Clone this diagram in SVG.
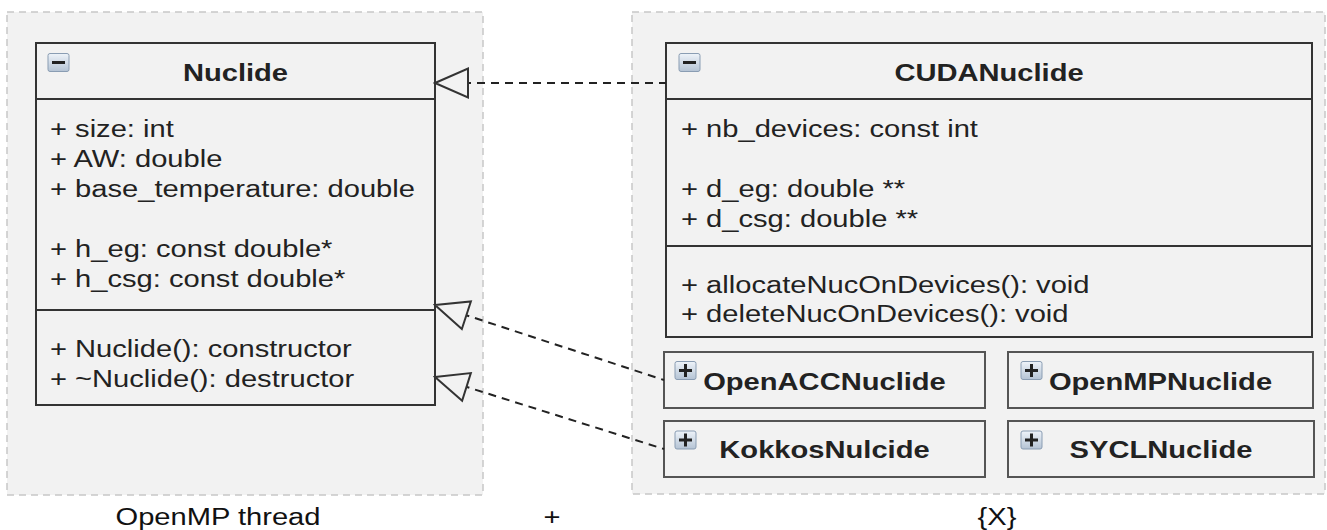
<svg xmlns="http://www.w3.org/2000/svg" width="1327" height="530" viewBox="0 0 1327 530">
<style>
.bg{fill:#ffffff}
.cont{fill:#f2f2f2;stroke:#c8c8c8;stroke-width:1.5;stroke-dasharray:7 5}
.cls{fill:#f2f2f2;stroke:#333333;stroke-width:2}
.sm{fill:#f2f2f2;stroke:#555555;stroke-width:2}
.sep{stroke:#333333;stroke-width:2}
.t{font-family:"Liberation Sans",Arial,Helvetica,sans-serif;font-size:23.3px;fill:#222222}
.b{font-weight:bold}
.lbl{font-family:"Liberation Sans",Arial,Helvetica,sans-serif;font-size:23.3px;fill:#111111}
.ico{fill:url(#icoGrad);stroke:#8a9db3;stroke-width:1}
.sym{fill:#222222}
.conn{fill:none;stroke:#222222;stroke-width:2;stroke-dasharray:8 6}
</style>
<defs>
<linearGradient id="icoGrad" x1="0" y1="0" x2="0" y2="1">
<stop offset="0" stop-color="#eef3f9"/>
<stop offset="1" stop-color="#b4c3d4"/>
</linearGradient>
<marker id="realize" markerUnits="userSpaceOnUse" markerWidth="38" markerHeight="34" viewBox="-2 -17 38 34" refX="0" refY="0" orient="auto">
<path d="M0,0 L33,-14.5 L33,14.5 Z" fill="#f2f2f2" stroke="#333333" stroke-width="2" stroke-linejoin="miter"/>
</marker>
</defs>
<rect class="bg" x="0" y="0" width="1327" height="530"/>

<g id="container-openmp">
<rect class="cont" x="7" y="12" width="476" height="483"/>
</g>
<g id="container-x">
<rect class="cont" x="632" y="12" width="693" height="482"/>
</g>

<g id="node-nuclide">
<rect class="cls" x="36" y="43" width="399" height="362"/>
<line class="sep" x1="36" y1="99" x2="435" y2="99"/>
<line class="sep" x1="36" y1="310" x2="435" y2="310"/>
<rect class="ico" x="48" y="53.5" width="21" height="18" rx="2"/>
<rect class="sym" x="52" y="61" width="13" height="3"/>
<text class="t b" text-anchor="middle" transform="translate(235.5,81) scale(1.25,1)">Nuclide</text>
<text class="t" transform="translate(50,137) scale(1.25,1)">+ size: int</text>
<text class="t" transform="translate(50,167) scale(1.25,1)">+ AW: double</text>
<text class="t" transform="translate(50,197) scale(1.25,1)">+ base_temperature: double</text>
<text class="t" transform="translate(50,257) scale(1.25,1)">+ h_eg: const double*</text>
<text class="t" transform="translate(50,287) scale(1.25,1)">+ h_csg: const double*</text>
<text class="t" transform="translate(50,357) scale(1.25,1)">+ Nuclide(): constructor</text>
<text class="t" transform="translate(50,387) scale(1.25,1)">+ ~Nuclide(): destructor</text>
</g>

<g id="node-cudanuclide">
<rect class="cls" x="666" y="43" width="646" height="294"/>
<line class="sep" x1="666" y1="99" x2="1312" y2="99"/>
<line class="sep" x1="666" y1="246" x2="1312" y2="246"/>
<rect class="ico" x="679" y="53.5" width="21" height="18" rx="2"/>
<rect class="sym" x="683" y="61" width="13" height="3"/>
<text class="t b" text-anchor="middle" transform="translate(989,81) scale(1.25,1)">CUDANuclide</text>
<text class="t" transform="translate(681,137) scale(1.25,1)">+ nb_devices: const int</text>
<text class="t" transform="translate(681,197) scale(1.25,1)">+ d_eg: double **</text>
<text class="t" transform="translate(681,227) scale(1.25,1)">+ d_csg: double **</text>
<text class="t" transform="translate(681,293) scale(1.25,1)">+ allocateNucOnDevices(): void</text>
<text class="t" transform="translate(681,322) scale(1.25,1)">+ deleteNucOnDevices(): void</text>
</g>

<g id="node-openacc">
<rect class="sm" x="664" y="352" width="321" height="56"/>
<rect class="ico" x="675" y="361.5" width="21" height="18" rx="2"/>
<rect class="sym" x="679" y="369" width="13" height="3"/>
<rect class="sym" x="684" y="364" width="3" height="13"/>
<text class="t b" text-anchor="middle" transform="translate(824.5,390) scale(1.25,1)">OpenACCNuclide</text>
</g>

<g id="node-openmp">
<rect class="sm" x="1008" y="352" width="305" height="56"/>
<rect class="ico" x="1021" y="361.5" width="21" height="18" rx="2"/>
<rect class="sym" x="1025" y="369" width="13" height="3"/>
<rect class="sym" x="1030" y="364" width="3" height="13"/>
<text class="t b" text-anchor="middle" transform="translate(1160.5,390) scale(1.25,1)">OpenMPNuclide</text>
</g>

<g id="node-kokkos">
<rect class="sm" x="664" y="421" width="321" height="56"/>
<rect class="ico" x="675" y="431" width="21" height="18" rx="2"/>
<rect class="sym" x="679" y="438.5" width="13" height="3"/>
<rect class="sym" x="684" y="433.5" width="3" height="13"/>
<text class="t b" text-anchor="middle" transform="translate(824.5,458) scale(1.25,1)">KokkosNulcide</text>
</g>

<g id="node-sycl">
<rect class="sm" x="1008" y="421" width="306" height="56"/>
<rect class="ico" x="1021" y="431" width="21" height="18" rx="2"/>
<rect class="sym" x="1025" y="438.5" width="13" height="3"/>
<rect class="sym" x="1030" y="433.5" width="3" height="13"/>
<text class="t b" text-anchor="middle" transform="translate(1161,458) scale(1.25,1)">SYCLNuclide</text>
</g>

<g id="connectors">
<path class="conn" d="M435,83 L666,83" marker-start="url(#realize)"/>
<path class="conn" d="M435,305 L664,380" marker-start="url(#realize)"/>
<path class="conn" d="M435,377 L664,449" marker-start="url(#realize)"/>
</g>

<g id="labels">
<text class="lbl" text-anchor="middle" transform="translate(218,525) scale(1.25,1)">OpenMP thread</text>
<text class="lbl" text-anchor="middle" transform="translate(552,525) scale(1.25,1)">+</text>
<text class="lbl" text-anchor="middle" transform="translate(997,525) scale(1.25,1)">{X}</text>
</g>
</svg>
